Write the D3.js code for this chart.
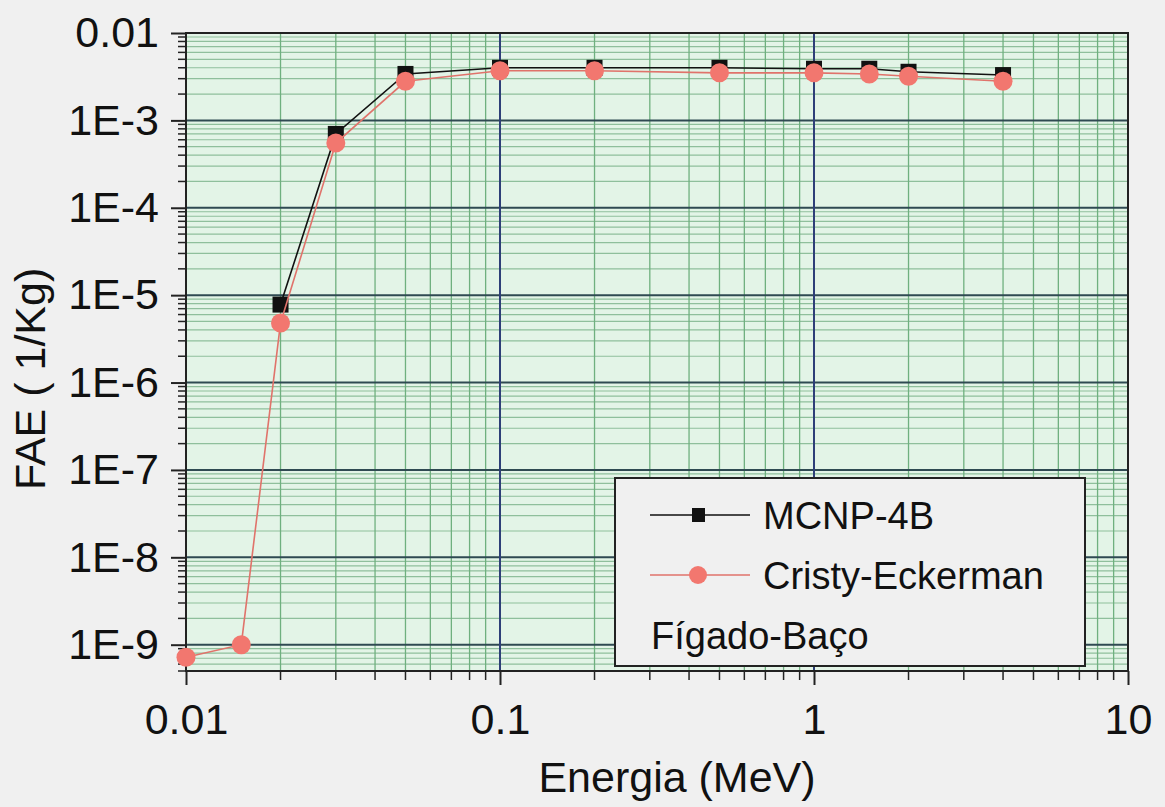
<!DOCTYPE html>
<html>
<head>
<meta charset="utf-8">
<script src="https://cdn.jsdelivr.net/npm/d3@7"></script>
<style>
  body { margin: 0; background: #f0f0f0; }
  text { font-family: "Liberation Sans", Arial, sans-serif; fill: #111; }
</style>
</head>
<body>
<div id="chart"></div>
<script>
// data
var energyMCNP = [0.02, 0.03, 0.05, 0.1, 0.2, 0.5, 1, 1.5, 2, 4];
var faeMCNP = [7.8e-6, 7.0e-4, 3.4e-3, 4.0e-3, 4.0e-3, 4.0e-3, 3.9e-3, 3.9e-3, 3.6e-3, 3.3e-3];

var energyCristy = [0.01, 0.015, 0.02, 0.03, 0.05, 0.1, 0.2, 0.5, 1, 1.5, 2, 4];
var faeCristy = [7.2e-10, 1.0e-9, 4.8e-6, 5.5e-4, 2.8e-3, 3.7e-3, 3.7e-3, 3.5e-3, 3.5e-3, 3.4e-3, 3.2e-3, 2.8e-3];

var xTicks = [0.01, 0.1, 1, 10];
var xTickLabels = ["0.01", "0.1", "1", "10"];
var yTicks = [1e-2, 1e-3, 1e-4, 1e-5, 1e-6, 1e-7, 1e-8, 1e-9];
var yTickLabels = ["0.01", "1E-3", "1E-4", "1E-5", "1E-6", "1E-7", "1E-8", "1E-9"];

var seriesNames = ["MCNP-4B", "Cristy-Eckerman"];

var W = 1165, H = 807;
var pLeft = 186, pRight = 1128, pTop = 33, pBottom = 671;

var svg = d3.select("#chart").append("svg")
  .attr("width", W)
  .attr("height", H);

var x = d3.scaleLog().domain([0.01, 10]).range([pLeft, pRight]);
var y = d3.scaleLog().domain([5e-10, 0.01]).range([pBottom, pTop]);

// plot background
svg.append("rect")
  .attr("x", pLeft)
  .attr("y", pTop)
  .attr("width", pRight - pLeft)
  .attr("height", pBottom - pTop)
  .attr("fill", "#e3f4e7");

// minor grid
var xMinor = [];
[0.01, 0.1, 1].forEach(function(d) {
  for (var i = 2; i <= 9; i++) xMinor.push(d * i);
});
var yMinor = [];
[1e-10, 1e-9, 1e-8, 1e-7, 1e-6, 1e-5, 1e-4, 1e-3].forEach(function(d) {
  for (var i = 2; i <= 9; i++) {
    var v = d * i;
    if (v >= 5e-10) yMinor.push(v);
  }
});

svg.selectAll(".hminor")
  .data(yMinor)
  .enter().append("line")
  .attr("class", "hminor")
  .attr("x1", pLeft).attr("x2", pRight)
  .attr("y1", function(d) { return y(d); })
  .attr("y2", function(d) { return y(d); })
  .attr("stroke", "#8fbf9c")
  .attr("stroke-width", 1.2);

svg.selectAll(".vminor")
  .data(xMinor)
  .enter().append("line")
  .attr("class", "vminor")
  .attr("y1", pTop).attr("y2", pBottom)
  .attr("x1", function(d) { return x(d); })
  .attr("x2", function(d) { return x(d); })
  .attr("stroke", "#6fb07f")
  .attr("stroke-width", 1.3);

// major grid
svg.selectAll(".hmajor")
  .data(yTicks)
  .enter().append("line")
  .attr("class", "hmajor")
  .attr("x1", pLeft).attr("x2", pRight)
  .attr("y1", function(d) { return y(d); })
  .attr("y2", function(d) { return y(d); })
  .attr("stroke", "#2f4a52")
  .attr("stroke-width", 2);

svg.selectAll(".vmajor")
  .data([0.1, 1])
  .enter().append("line")
  .attr("class", "vmajor")
  .attr("y1", pTop).attr("y2", pBottom)
  .attr("x1", function(d) { return x(d); })
  .attr("x2", function(d) { return x(d); })
  .attr("stroke", "#2e3f78")
  .attr("stroke-width", 2);

// frame
svg.append("rect")
  .attr("x", pLeft)
  .attr("y", pTop)
  .attr("width", pRight - pLeft)
  .attr("height", pBottom - pTop)
  .attr("fill", "none")
  .attr("stroke", "#222")
  .attr("stroke-width", 2);

// axes
var xAxis = d3.axisBottom(x)
  .tickValues(xTicks)
  .tickFormat(function(d, i) { return xTickLabels[i]; })
  .tickSize(14)
  .tickPadding(18);

var gx = svg.append("g")
  .attr("transform", "translate(0," + pBottom + ")")
  .call(xAxis);
gx.select(".domain").remove();
gx.selectAll("line").attr("stroke", "#222").attr("stroke-width", 2);
gx.selectAll("text").style("font-size", "43px").attr("fill", "#111");

svg.selectAll(".xminortick")
  .data(xMinor)
  .enter().append("line")
  .attr("class", "xminortick")
  .attr("x1", function(d) { return x(d); })
  .attr("x2", function(d) { return x(d); })
  .attr("y1", pBottom).attr("y2", pBottom + 9)
  .attr("stroke", "#222")
  .attr("stroke-width", 1.5);

var yAxis = d3.axisLeft(y)
  .tickValues(yTicks)
  .tickFormat(function(d, i) { return yTickLabels[i]; })
  .tickSize(15)
  .tickPadding(12);

var gy = svg.append("g")
  .attr("transform", "translate(" + pLeft + ",0)")
  .call(yAxis);
gy.select(".domain").remove();
gy.selectAll("line").attr("stroke", "#222").attr("stroke-width", 2);
gy.selectAll("text").style("font-size", "43px").attr("fill", "#111");

svg.selectAll(".yminortick")
  .data(yMinor)
  .enter().append("line")
  .attr("class", "yminortick")
  .attr("x1", pLeft - 8).attr("x2", pLeft)
  .attr("y1", function(d) { return y(d); })
  .attr("y2", function(d) { return y(d); })
  .attr("stroke", "#222")
  .attr("stroke-width", 1.5);

// axis titles
svg.append("text")
  .attr("x", (pLeft + pRight) / 2 + 20)
  .attr("y", 792)
  .attr("text-anchor", "middle")
  .style("font-size", "43px")
  .text("Energia (MeV)");

svg.append("text")
  .attr("transform", "translate(45,490) rotate(-90)")
  .attr("text-anchor", "start")
  .style("font-size", "43px")
  .text("FAE ( 1/Kg)");

// series
var line = d3.line()
  .x(function(d) { return x(d[0]); })
  .y(function(d) { return y(d[1]); });

var mcnp = d3.zip(energyMCNP, faeMCNP);
var cristy = d3.zip(energyCristy, faeCristy);

svg.append("path")
  .datum(mcnp)
  .attr("d", line)
  .attr("fill", "none")
  .attr("stroke", "#111")
  .attr("stroke-width", 1.6);

svg.selectAll(".sq")
  .data(mcnp)
  .enter().append("rect")
  .attr("class", "sq")
  .attr("x", function(d) { return x(d[0]) - 8; })
  .attr("y", function(d) { return y(d[1]) - 8; })
  .attr("width", 16)
  .attr("height", 16)
  .attr("fill", "#111");

svg.append("path")
  .datum(cristy)
  .attr("d", line)
  .attr("fill", "none")
  .attr("stroke", "#e0736b")
  .attr("stroke-width", 1.6);

svg.selectAll(".dot")
  .data(cristy)
  .enter().append("circle")
  .attr("class", "dot")
  .attr("cx", function(d) { return x(d[0]); })
  .attr("cy", function(d) { return y(d[1]); })
  .attr("r", 9.5)
  .attr("fill", "#f2776f");

// legend
var legend = svg.append("g");
legend.append("rect")
  .attr("x", 615)
  .attr("y", 478)
  .attr("width", 470)
  .attr("height", 188)
  .attr("fill", "#f0f0f0")
  .attr("stroke", "#222")
  .attr("stroke-width", 2);

var legendColors = ["#111", "#e0736b"];
seriesNames.forEach(function(name, i) {
  var ly = 515 + i * 60;
  legend.append("line")
    .attr("x1", 650).attr("x2", 750)
    .attr("y1", ly).attr("y2", ly)
    .attr("stroke", legendColors[i])
    .attr("stroke-width", 1.6);
  if (i == 0) {
    legend.append("rect")
      .attr("x", 692).attr("y", ly - 7)
      .attr("width", 13).attr("height", 14)
      .attr("fill", "#111");
  } else {
    legend.append("circle")
      .attr("cx", 698).attr("cy", ly)
      .attr("r", 9)
      .attr("fill", "#f2776f");
  }
  legend.append("text")
    .attr("x", 763)
    .attr("y", ly + 14)
    .style("font-size", "38px")
    .text(name);
});

legend.append("text")
  .attr("x", 651)
  .attr("y", 649)
  .style("font-size", "38px")
  .text("Fígado-Baço");
</script>
</body>
</html>
